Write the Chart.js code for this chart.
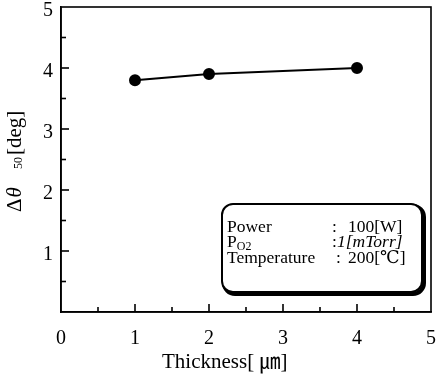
<!DOCTYPE html>
<html>
<head>
<meta charset="utf-8">
<script src="https://cdn.jsdelivr.net/npm/chart.js@4"></script>
<style>
html,body{margin:0;padding:0;background:#fff;}
#wrap{width:438px;height:376px;position:relative;}
</style>
</head>
<body>
<div id="wrap"><canvas id="c" width="438" height="376"></canvas></div>
<script>
const thickness = [1, 2, 4];
const deltaTheta = [3.8, 3.9, 4.0];
const xTicks = [0, 1, 2, 3, 4, 5];
const yTicks = [1, 2, 3, 4, 5];
const xTitle = "Thickness[ ㎛]";
const legendRows = [
  ["Power", ":", "100[W]"],
  ["PO2", ":", "1[mTorr]"],
  ["Temperature", ":", "200[℃]"]
];

const SERIF = "'Liberation Serif','DejaVu Serif','Noto Sans CJK JP',serif";

const tickPlugin = {
  id: 'inwardTicks',
  afterDraw(chart) {
    const ctx = chart.ctx;
    const xs = chart.scales.x, ys = chart.scales.y;
    const a = chart.chartArea;
    ctx.save();
    ctx.strokeStyle = '#000';
    ctx.lineWidth = 1.6;
    // frame
    ctx.strokeRect(a.left, a.top, a.right - a.left, a.bottom - a.top);
    for (let v = 0.5; v < 5; v += 0.5) {
      const major = Math.abs(v - Math.round(v)) < 1e-6;
      const len = major ? 8 : 5;
      const px = xs.getPixelForValue(v);
      ctx.beginPath(); ctx.moveTo(px, a.bottom); ctx.lineTo(px, a.bottom - len); ctx.stroke();
      const py = ys.getPixelForValue(v);
      ctx.beginPath(); ctx.moveTo(a.left, py); ctx.lineTo(a.left + len, py); ctx.stroke();
    }
    ctx.fillStyle = '#000';
    // x axis title
    ctx.textBaseline = 'alphabetic';
    ctx.textAlign = 'left';
    ctx.font = "21px " + SERIF;
    ctx.fillText(xTitle, 162, 368);
    // y axis title
    ctx.save();
    ctx.translate(21, 212);
    ctx.rotate(-Math.PI / 2);
    ctx.font = "21px " + SERIF;
    ctx.fillText('Δ', 0, 0);
    let x0 = ctx.measureText('Δ').width + 1;
    ctx.font = "italic 21px " + SERIF;
    ctx.fillText('θ', x0, 0);
    ctx.font = "12px " + SERIF;
    ctx.fillText('50', 43, 1);
    ctx.font = "21px " + SERIF;
    ctx.fillText('[deg]', 57, 0);
    ctx.restore();

    // parameter box
    const bx = 222, by = 204, bw = 200, bh = 88, r = 11;
    ctx.save();
    ctx.lineWidth = 4;
    ctx.beginPath();
    ctx.roundRect(bx + 2, by + 2, bw, bh, r);
    ctx.stroke();
    ctx.fillStyle = '#fff';
    ctx.lineWidth = 2;
    ctx.beginPath();
    ctx.roundRect(bx, by, bw, bh, r);
    ctx.fill();
    ctx.stroke();
    ctx.restore();

    const baseY = [232, 247, 263];
    const F = "17.5px " + SERIF;
    ctx.font = F;
    ctx.fillText(legendRows[0][0], 227, baseY[0]);
    ctx.fillText('P', 227, baseY[1]);
    const pw = ctx.measureText('P').width;
    ctx.font = "12px " + SERIF;
    ctx.fillText('O2', 227 + pw, baseY[1] + 3);
    ctx.font = F;
    ctx.fillText(legendRows[2][0], 227, baseY[2]);
    ctx.fillText(legendRows[0][1], 332, baseY[0]);
    ctx.fillText(legendRows[0][2], 348, baseY[0]);
    ctx.fillText(legendRows[1][1], 332, baseY[1]);
    ctx.font = "italic 17.5px " + SERIF;
    ctx.fillText(legendRows[1][2], 337, baseY[1]);
    ctx.font = F;
    ctx.fillText(legendRows[2][1], 336, baseY[2]);
    ctx.fillText(legendRows[2][2], 348, baseY[2]);
    ctx.restore();
  }
};

new Chart(document.getElementById('c'), {
  type: 'scatter',
  data: {
    datasets: [{
      data: thickness.map((t, i) => ({ x: t, y: deltaTheta[i] })),
      showLine: true,
      borderColor: '#000',
      backgroundColor: '#000',
      borderWidth: 2,
      pointRadius: 5,
      pointHoverRadius: 5
    }]
  },
  options: {
    responsive: false,
    animation: false,
    devicePixelRatio: 1,
    layout: { padding: { left: 0, right: 4, top: 7, bottom: 0 } },
    plugins: { legend: { display: false }, tooltip: { enabled: false } },
    scales: {
      x: {
        type: 'linear', min: 0, max: 5,
        afterBuildTicks: s => { s.ticks = xTicks.map(v => ({ value: v })); },
        afterFit: s => { s.height = 64; s.paddingRight = 0; s.paddingLeft = 0; },
        grid: { display: false, drawTicks: false },
        border: { display: true, color: '#000', width: 1.6 },
        ticks: { color: '#000', padding: 15, maxRotation: 0, font: { family: SERIF, size: 20 } },
        title: { display: false }
      },
      y: {
        type: 'linear', min: 0, max: 5,
        afterBuildTicks: s => { s.ticks = yTicks.map(v => ({ value: v })); },
        afterFit: s => { s.width = 61; s.paddingTop = 0; s.paddingBottom = 0; },
        grid: { display: false, drawTicks: false },
        border: { display: true, color: '#000', width: 1.6 },
        ticks: { color: '#000', padding: 8, labelOffset: 4, font: { family: SERIF, size: 20 } }
      }
    }
  },
  plugins: [tickPlugin]
});
</script>
</body>
</html>
